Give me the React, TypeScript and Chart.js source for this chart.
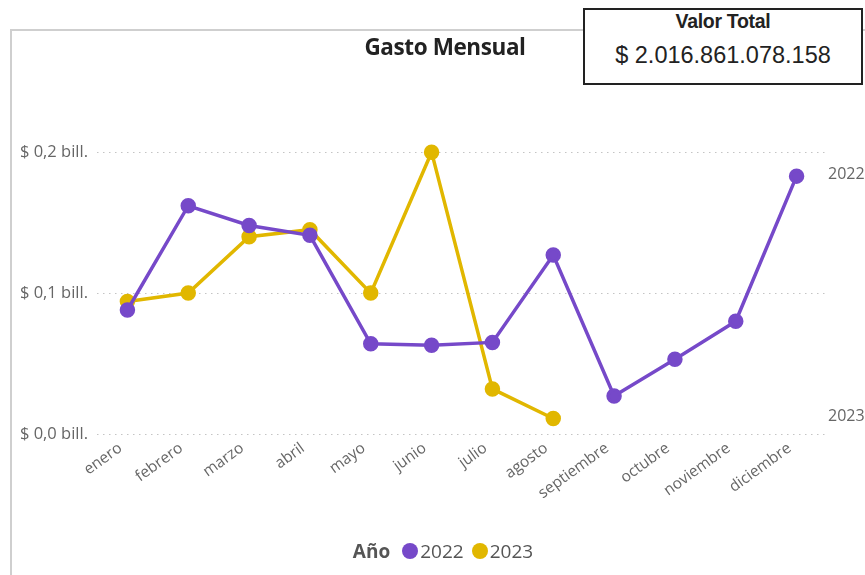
import React, { useEffect, useRef } from "react";
import { Chart, registerables } from "chart.js";

Chart.register(...registerables);

const months = ["enero", "febrero", "marzo", "abril", "mayo", "junio", "julio", "agosto", "septiembre", "octubre", "noviembre", "diciembre"];
const values2022 = [0.088, 0.162, 0.148, 0.141, 0.064, 0.063, 0.065, 0.127, 0.027, 0.053, 0.080, 0.183];
const values2023 = [0.094, 0.100, 0.140, 0.145, 0.100, 0.200, 0.032, 0.011, null, null, null, null];
const yTicks = [0, 0.1, 0.2];
const seriesNames = ["2022", "2023"];
const colors = ["#7649C9", "#E1B700"];
const titleText = "Gasto Mensual";
const cardLabel = "Valor Total";
const cardValue = "$ 2.016.861.078.158";
const legendTitle = "Año";

const FONT = "'Open Sans', 'Noto Sans', sans-serif";

const endLabels = {
  id: "endLabels",
  afterDraw(chart: any) {
    const ctx = chart.ctx;
    ctx.save();
    ctx.font = `16px ${FONT}`;
    ctx.fillStyle = "#666";
    ctx.textAlign = "left";
    ctx.textBaseline = "middle";
    chart.data.datasets.forEach((ds: any, i: number) => {
      const meta = chart.getDatasetMeta(i);
      let last = -1;
      ds.data.forEach((v: any, j: number) => { if (v !== null) last = j; });
      if (last < 0) return;
      const pt = meta.data[last];
      ctx.fillText(ds.label, chart.chartArea.right + 1, pt.y - 2);
    });
    ctx.restore();
  },
};

export default function App() {
  const ref = useRef<HTMLCanvasElement>(null);
  useEffect(() => {
    document.body.style.margin = "0";
    const chart = new Chart(ref.current!, {
      type: "line",
      data: {
        labels: months,
        datasets: [values2022, values2023].map((d, i) => ({
          label: seriesNames[i],
          data: d,
          borderColor: colors[i],
          backgroundColor: colors[i],
          pointBackgroundColor: colors[i],
          pointBorderColor: colors[i],
          borderWidth: 3.5,
          pointRadius: 6,
          pointHoverRadius: 6,
          spanGaps: false,
          tension: 0,
        })),
      },
      options: {
        animation: false,
        responsive: false,
        layout: { padding: { left: 10, right: 38, top: 124, bottom: 0 } },
        plugins: { legend: { display: false }, tooltip: { enabled: false }, title: { display: false } },
        scales: {
          x: {
            offset: true,
            grid: { display: false, drawTicks: false },
            border: { display: false },
            ticks: {
              minRotation: 36,
              maxRotation: 36,
              padding: 5,
              labelOffset: -7,
              color: "#666",
              font: { family: FONT, size: 15.5 },
            },
            afterFit: (s: any) => { s.height = 141; },
          },
          y: {
            min: 0,
            max: 0.22,
            afterBuildTicks: (s: any) => { s.ticks = yTicks.map((v) => ({ value: v })); },
            grid: { color: "#c4c4c4", lineWidth: 1, drawTicks: false },
            border: { display: false, dash: [1.5, 4.5] },
            ticks: {
              padding: 9,
              color: "#666",
              font: { family: FONT, size: 16.5 },
              callback: (v: any) => `$ ${Number(v).toFixed(1).replace(".", ",")} bill.`,
            },
            afterFit: (s: any) => { s.width = 87; },
          },
        },
      },
      plugins: [endLabels],
    });
    return () => chart.destroy();
  }, []);

  return (
    <div style={{ position: "absolute", left: 0, top: 0, width: 865, height: 575, overflow: "hidden", background: "#fff", fontFamily: FONT }}>
      <div style={{ position: "absolute", left: 10, top: 29, width: 900, height: 600, borderLeft: "2px solid #cfcfcf", borderTop: "2px solid #cfcfcf" }} />
      <canvas ref={ref} width={865} height={575} style={{ position: "absolute", left: 0, top: 0 }} />
      <div style={{ position: "absolute", left: 245, width: 400, top: 31, textAlign: "center", fontWeight: 700, fontSize: 22.5, color: "#222", letterSpacing: -0.4 }}>{titleText}</div>
      <div style={{ position: "absolute", left: 583, top: 8, width: 276, height: 73, border: "2px solid #222", background: "#fff", textAlign: "center", fontFamily: "'Liberation Sans', Arial, sans-serif", color: "#222" }}>
        <div style={{ fontWeight: 700, fontSize: 19.5, marginTop: -1, lineHeight: "24px", letterSpacing: -0.3 }}>{cardLabel}</div>
        <div style={{ fontSize: 23.5, marginTop: 9, lineHeight: "26px" }}>{cardValue}</div>
      </div>
      <div style={{ position: "absolute", left: 6, width: 882, top: 538, display: "flex", justifyContent: "center", alignItems: "center", fontSize: 19, color: "#555" }}>
        <span style={{ fontWeight: 700, marginRight: 12 }}>{legendTitle}</span>
        {seriesNames.map((n, i) => (
          <span key={n} style={{ display: "flex", alignItems: "center", marginRight: 8 }}>
            <span style={{ width: 16, height: 16, borderRadius: "50%", background: colors[i], display: "inline-block", marginRight: 2 }} />
            {n}
          </span>
        ))}
      </div>
    </div>
  );
}
